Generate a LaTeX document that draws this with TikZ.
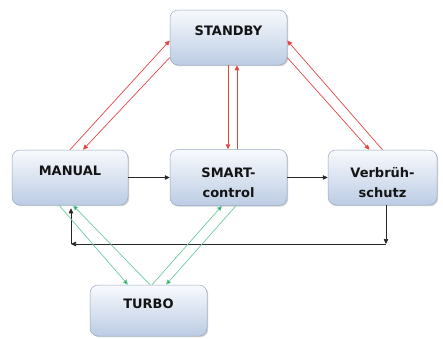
\documentclass[tikz,border=0pt]{standalone}
\usepackage{fontspec}
\setmainfont{DejaVu Sans}
\usetikzlibrary{arrows.meta,shadows}
\definecolor{boxtop}{RGB}{248,250,253}
\definecolor{boxbot}{RGB}{188,204,228}
\definecolor{boxline}{RGB}{150,170,198}
\definecolor{redln}{RGB}{228,70,70}
\definecolor{grnln}{RGB}{110,205,160}
\definecolor{grnhd}{RGB}{20,160,90}
\definecolor{txtcol}{RGB}{20,20,20}
\begin{document}
\begin{tikzpicture}[x=1pt,y=-1pt,
  statebox/.style={draw=boxline, line width=0.5pt, rounded corners=8pt,
    top color=boxtop, bottom color=boxbot,
    drop shadow={opacity=0.35, shadow xshift=1.2pt, shadow yshift=-1.2pt},
    inner sep=0pt, font=\fontsize{13}{20}\selectfont\bfseries, text=txtcol, align=center},
  oneline/.style={text height=8pt, text depth=12pt},
  twoline/.style={text height=40pt, text depth=0pt},
  redarrow/.style={draw=redln, line width=0.7pt, -{Triangle[length=5pt,width=4.5pt,fill=redln]}},
  grnarrow/.style={draw=grnln, line width=0.7pt, -{Triangle[length=5pt,width=4.5pt,fill=grnhd]}},
  blkarrow/.style={draw=black!85, line width=0.6pt, -{Triangle[length=5pt,width=4.5pt]}}
]
\useasboundingbox[fill=white] (0,0) rectangle (443,338);

\node[statebox,oneline,minimum width=117pt,minimum height=55pt] (standby) at (228.5,37.5) {STANDBY};
\node[statebox,oneline,minimum width=116pt,minimum height=55pt] (manual) at (70,177.5) {MANUAL};
\node[statebox,twoline,minimum width=117pt,minimum height=56pt] (smart) at (228.5,177.5) {SMART-\\control};
\node[statebox,twoline,minimum width=109pt,minimum height=55pt] (verb) at (382.5,177.5) {Verbrüh-\\schutz};
\node[statebox,oneline,minimum width=117pt,minimum height=51pt] (turbo) at (148.5,310.5) {TURBO};

% red: STANDBY <-> MANUAL
\draw[redarrow] (manual.north) -- ([yshift=-3pt]standby.west);
\draw[redarrow] ([yshift=-20pt]standby.west) -- ([xshift=13pt]manual.north);
% red: STANDBY <-> SMART
\draw[redarrow] ([xshift=-0.5pt]standby.south) -- ([xshift=-0.5pt]smart.north);
\draw[redarrow] ([xshift=8.5pt]smart.north) -- ([xshift=8.5pt]standby.south);
% red: STANDBY <-> Verbrueh
\draw[redarrow] (verb.north) -- ([yshift=-3pt]standby.east);
\draw[redarrow] ([yshift=-20pt]standby.east) -- ([xshift=-13pt]verb.north);

% black
\draw[blkarrow] (manual.east) -- (smart.west);
\draw[blkarrow] (smart.east) -- (verb.west);
\coordinate (c1) at (386,244);
\coordinate (c2) at (71,244);
\draw[blkarrow] ([xshift=3.5pt]verb.south) -- (c1);
\draw[blkarrow] (c1) -- (c2);
\draw[blkarrow] (c2) -- ([xshift=1pt,yshift=-3pt]manual.south);

% green
\draw[grnarrow] ([xshift=-11pt]manual.south) -- ([xshift=-20.5pt]turbo.north);
\draw[grnarrow] ([xshift=1.5pt]turbo.north) -- ([xshift=3pt]manual.south);
\draw[grnarrow] ([xshift=3.5pt]turbo.north) -- ([xshift=-6.5pt]smart.south);
\draw[grnarrow] ([xshift=7.5pt]smart.south) -- ([xshift=17.5pt]turbo.north);
\end{tikzpicture}
\end{document}
